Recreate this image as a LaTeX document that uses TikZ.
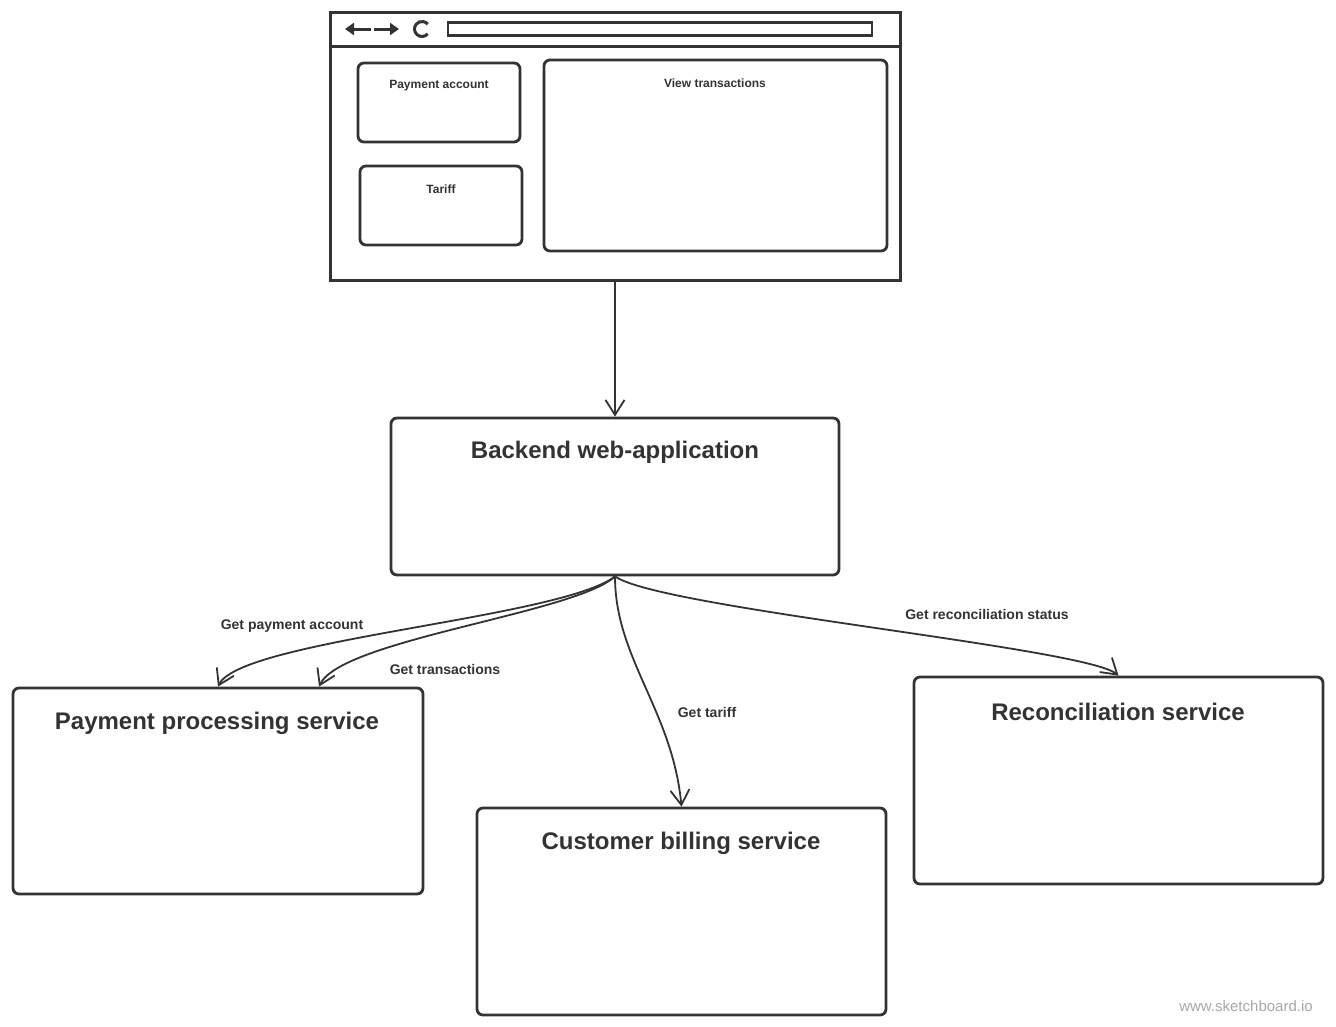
\documentclass[tikz,border=0pt]{standalone}
\usepackage{fontspec}
\setmainfont{Liberation Sans}
\usetikzlibrary{arrows.meta}
\definecolor{ink}{HTML}{333333}
\definecolor{wm}{HTML}{A8A8A8}
\begin{document}
\begin{tikzpicture}[x=1pt,y=-1pt,
  box/.style={draw=ink,line width=2.8pt,rounded corners=6pt,inner sep=0pt},
  frame/.style={draw=ink,line width=3pt,inner sep=0pt},
  title/.style={font=\bfseries\fontsize{24}{28}\selectfont,text=ink,inner sep=0pt},
  elabel/.style={font=\bfseries\fontsize{14}{16}\selectfont,text=ink,inner sep=0pt},
  smalllabel/.style={font=\bfseries\fontsize{12}{14}\selectfont,text=ink,inner sep=0pt},
  conn/.style={draw=ink,line width=1.8pt,-{Straight Barb[length=15pt,width=19pt]}},
  icon/.style={draw=ink,line width=3pt}]
\useasboundingbox[fill=white] (0,0) rectangle (1336,1026);

% browser window
\node[frame,minimum width=570pt,minimum height=268pt] (browser) at (615,146) {};
\coordinate (barL) at (330,46);
\coordinate (barR) at (900,46);
\draw[ink,line width=3pt] (barL) -- (barR);
\draw[icon,-{Triangle[length=9pt,width=12pt]}] (371,29) -- (345,29);
\draw[icon,-{Triangle[length=9pt,width=12pt]}] (374,29) -- (399,29);
\draw[icon] (422,29) ++(40:7.5) arc[start angle=40,end angle=320,radius=7.5];
\node[draw=ink,line width=2.5pt,minimum width=424pt,minimum height=13pt,inner sep=0pt] (url) at (660,29) {};

\node[box,minimum width=162pt,minimum height=79pt] (payacc) at (439,102.5) {};
\node[smalllabel] (payaccT) at (439,86) {Payment account};
\node[box,minimum width=162pt,minimum height=79pt] (tariff) at (441,205.5) {};
\node[smalllabel] (tariffT) at (441,189) {Tariff};
\node[box,minimum width=343pt,minimum height=191pt] (viewtx) at (715.5,155.5) {};
\node[smalllabel] (viewtxT) at (715,83) {View transactions};

% services
\node[box,minimum width=448pt,minimum height=157pt] (backend) at (615,496.5) {};
\node[title] (backendT) at (615,452) {Backend web-application};
\node[box,minimum width=410pt,minimum height=206pt] (pay) at (218,791) {};
\node[title] (payT) at (217,723) {Payment processing service};
\node[box,minimum width=409pt,minimum height=207pt] (bill) at (681.5,911.5) {};
\node[title] (billT) at (681,843) {Customer billing service};
\node[box,minimum width=409pt,minimum height=207pt] (recon) at (1118.5,780.5) {};
\node[title] (reconT) at (1118,712) {Reconciliation service};

% connectors
\draw[conn] (browser.south) -- (backend.north);
\draw[conn] (backend.south) .. controls +(-55,42) and +(23,-47) .. (pay.north);
\draw[conn] (backend.south) .. controls +(-40,37) and +(22,-47) .. ([xshift=101pt]pay.north);
\draw[conn] (backend.south) .. controls +(0,82) and +(-9,-96) .. (bill.north);
\draw[conn] (backend.south) .. controls +(45,32) and +(-33,-28) .. (recon.north);

\node[elabel] (l1) at (292,626) {Get payment account};
\node[elabel] (l2) at (445,669) {Get transactions};
\node[elabel] (l3) at (707,712) {Get tariff};
\node[elabel] (l4) at (987,614) {Get reconciliation status};

\node[font=\fontsize{15}{17}\selectfont,text=wm,inner sep=0pt] (wmark) at (1246,1006) {www.sketchboard.io};
\end{tikzpicture}
\end{document}
